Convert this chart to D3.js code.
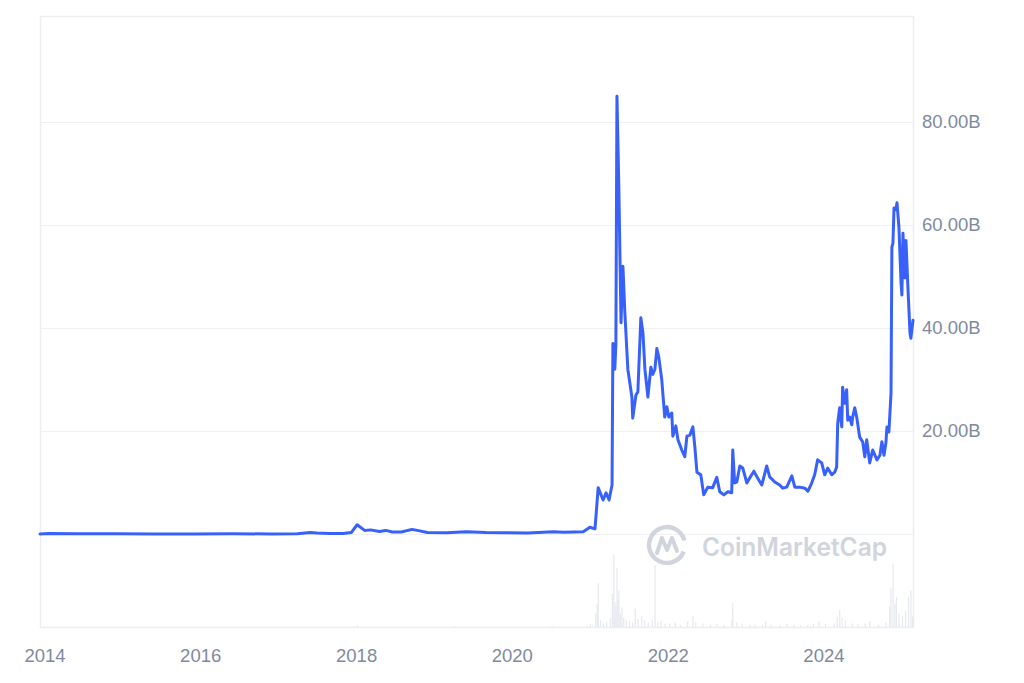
<!DOCTYPE html>
<html>
<head>
<meta charset="utf-8">
<script src="https://cdn.jsdelivr.net/npm/d3@7/dist/d3.min.js"></script>
<style>
  html, body { margin: 0; padding: 0; background: #ffffff; }
  svg { display: block; }
</style>
</head>
<body>
<svg id="chart" width="1024" height="683"></svg>
<script>
// ---------- DATA (market cap in billions USD) ----------
const priceDates = [
  "2013-12-11","2014-01-20","2014-06-01","2014-12-01","2015-06-01","2015-12-01","2016-06-01","2016-12-01",
  "2017-04-01","2017-05-30","2017-07-01","2017-09-01","2017-11-01","2017-12-10","2018-01-06","2018-02-10",
  "2018-03-10","2018-04-20","2018-05-20","2018-06-20","2018-08-01","2018-09-20","2018-10-15","2018-12-01",
  "2019-03-01","2019-06-01","2019-09-01","2019-12-01","2020-03-15","2020-07-15","2020-09-01","2020-12-01",
  "2021-01-01","2021-01-25","2021-02-09","2021-03-04","2021-03-18","2021-04-01","2021-04-15","2021-04-19",
  "2021-04-28","2021-05-03","2021-05-08","2021-05-17","2021-05-27","2021-06-05","2021-06-14","2021-06-28",
  "2021-07-17","2021-07-21","2021-08-05","2021-08-14","2021-08-28","2021-09-07","2021-09-16","2021-09-30",
  "2021-10-14","2021-10-23","2021-11-02","2021-11-11","2021-11-20","2021-12-04","2021-12-18","2021-12-28",
  "2022-01-06","2022-01-20","2022-01-25","2022-02-08","2022-02-18","2022-03-08","2022-03-22","2022-04-01",
  "2022-04-15","2022-04-29","2022-05-08","2022-05-18","2022-06-05","2022-06-19","2022-07-08","2022-07-31",
  "2022-08-19","2022-09-02","2022-09-21","2022-10-10","2022-10-28","2022-11-02","2022-11-11","2022-11-21",
  "2022-12-05","2022-12-19","2023-01-07","2023-01-21","2023-02-09","2023-02-23","2023-03-18","2023-04-10",
  "2023-04-24","2023-05-18","2023-06-10","2023-06-24","2023-07-13","2023-08-06","2023-08-20","2023-09-12",
  "2023-10-06","2023-10-20","2023-11-07","2023-11-21","2023-12-05","2023-12-24","2024-01-07","2024-01-21",
  "2024-02-09","2024-02-23","2024-03-03","2024-03-08","2024-03-17","2024-03-27","2024-03-31","2024-04-10",
  "2024-04-19","2024-04-24","2024-05-03","2024-05-13","2024-05-17","2024-05-27","2024-06-05","2024-06-19",
  "2024-07-03","2024-07-13","2024-07-22","2024-08-05","2024-08-19","2024-09-08","2024-09-22","2024-10-01",
  "2024-10-11","2024-10-20","2024-10-25","2024-11-03","2024-11-13","2024-11-17","2024-11-22","2024-11-27",
  "2024-12-06","2024-12-11","2024-12-20","2024-12-30","2025-01-03","2025-01-08","2025-01-17","2025-01-22",
  "2025-01-31","2025-02-10","2025-02-14","2025-02-24"
];
const marketCap = [
  0.01,0.08,0.04,0.03,0.02,0.02,0.03,0.02,
  0.04,0.3,0.2,0.12,0.1,0.3,1.8,0.7,
  0.8,0.5,0.7,0.4,0.4,0.9,0.7,0.3,
  0.25,0.45,0.3,0.25,0.2,0.45,0.35,0.45,
  1.3,1.0,9.0,6.6,8.0,6.6,9.5,37,
  32,37,85,67,41,52,43,32,
  26.6,22.5,27,27.6,42,39,32,26.6,
  32.4,31,32,36,34.4,30,22.7,24.7,
  22.7,23.5,19,21,18.3,16.3,15,19,
  19.2,20.8,17,12,11.5,7.6,9.1,9.0,
  11,8.2,7.6,8.2,8.0,16.3,9.9,10.1,
  13.2,12.8,9.9,10.9,12.2,11.1,9.5,13.2,
  11.1,10.1,9.5,8.9,9.1,11.3,9.1,9.1,
  8.9,8.3,9.9,11.5,14.4,13.8,11.5,12.8,
  11.5,12,13,21.5,24.5,20.8,28.5,25.4,
  28,22.1,22.7,21.2,22.7,24.5,22.7,18.8,
  17.9,15,18.3,13.8,16.3,14.4,15.3,17.9,
  15.3,17.7,20.8,19.8,27.4,55.7,56.5,63.3,
  63,64.3,59.6,48.7,46.4,58.4,49.7,57,
  48,39,38,41.5
];

// volume (billions USD)
const volDates = [
  "2017-12-20","2018-01-06","2019-04-05","2020-07-07","2020-12-20",
  "2021-01-03","2021-01-28","2021-02-04","2021-02-09","2021-02-20","2021-03-05","2021-03-20","2021-04-06",
  "2021-04-16","2021-04-23","2021-04-28","2021-05-03","2021-05-08","2021-05-12","2021-05-17","2021-05-24",
  "2021-05-31","2021-06-08","2021-06-20","2021-07-05","2021-07-20","2021-08-01","2021-08-15","2021-09-01",
  "2021-09-15","2021-10-01","2021-10-20","2021-11-02","2021-11-15","2021-12-01","2021-12-20","2022-01-10",
  "2022-02-05","2022-03-01","2022-04-04","2022-04-29","2022-05-12","2022-06-15","2022-07-20","2022-08-20",
  "2022-09-20","2022-10-28","2022-11-02","2022-11-20","2022-12-15","2023-01-20","2023-02-15","2023-03-20",
  "2023-04-05","2023-05-01","2023-06-10","2023-07-13","2023-08-15","2023-09-15","2023-10-20","2023-11-15",
  "2023-12-10","2024-01-10","2024-02-20","2024-03-05","2024-03-17","2024-03-28","2024-04-12","2024-05-15",
  "2024-06-10","2024-07-15","2024-08-05","2024-09-15","2024-10-20","2024-11-06","2024-11-12","2024-11-22",
  "2024-12-01","2024-12-08","2024-12-20","2025-01-05","2025-01-20","2025-02-03","2025-02-14","2025-02-22"
];
const volumes = [
  0.8,1.5,0.8,1.0,0.8,
  2.5,12,20,38,6,3,4,8,
  29,63,22,18,51,24,32,12,
  17,8,6,5,4,16,7,10,
  6,4,6,54,4,5,3,3,
  4,2,5,10,4,3,2,2.5,
  2,6,21,4,3,2,2,2,
  5,2,1.5,3,2,1.5,2,3,
  5,3,3,9,15,8,6,3,
  3,3,5,2,4,18,34,55,
  20,26,12,10,14,26,32,9
];

const yTicks = [20, 40, 60, 80];
const gridValues = [0, 20, 40, 60, 80];
const xTickYears = ["2014","2016","2018","2020","2022","2024"];

// ---------- CHART ----------
(function () {
const parse = d3.timeParse("%Y-%m-%d");
const series = priceDates.map((d, i) => ({ date: parse(d), value: marketCap[i] }));
const volSeries = volDates.map((d, i) => ({ date: parse(d), value: volumes[i] }));

const svg = d3.select("#chart");
const pLeft = 40, pRight = 913, pTop = 16, pBottom = 627, zeroY = 534;

const x = d3.scaleTime()
  .domain(d3.extent(series, d => d.date))
  .range([pLeft, pRight]);
const y = d3.scaleLinear().domain([0, 100]).range([zeroY, 19]);
const yVol = d3.scaleLinear().domain([0, 80]).range([pBottom, 535]);

const axisColor = "#808a9d";
const font = "'Liberation Sans', Arial, sans-serif";

// frame
svg.append("rect")
  .attr("x", pLeft + 0.5).attr("y", pTop + 0.5)
  .attr("width", pRight - pLeft).attr("height", pBottom - pTop)
  .attr("fill", "none").attr("stroke", "#eceef1").attr("stroke-width", 1.5);

// gridlines
svg.append("g").selectAll("line").data(gridValues).join("line")
  .attr("x1", pLeft).attr("x2", pRight)
  .attr("y1", d => Math.round(y(d)) + 0.5).attr("y2", d => Math.round(y(d)) + 0.5)
  .attr("stroke", "#eef0f3").attr("stroke-width", 1);

// volume bars
svg.append("g").selectAll("rect").data(volSeries).join("rect")
  .attr("x", d => x(d.date) - 0.5)
  .attr("width", 1.2)
  .attr("y", d => yVol(d.value))
  .attr("height", d => pBottom - yVol(d.value))
  .attr("fill", "#e6e9ee");

// watermark
const wm = svg.append("g");
const cx = 667, cy = 545, r = 18;
const arc = d3.arc().innerRadius(r - 2.2).outerRadius(r + 2.2)
  .startAngle(Math.PI * 0.62).endAngle(Math.PI * 2.42);
wm.append("path").attr("d", arc()).attr("transform", `translate(${cx},${cy})`).attr("fill", "#d0d4dc");
wm.append("path")
  .attr("d", `M${cx-10},${cy+8} L${cx-5},${cy-7} L${cx},${cy+5} L${cx+5},${cy-7} L${cx+10},${cy+6}`)
  .attr("fill", "none").attr("stroke", "#d0d4dc").attr("stroke-width", 4)
  .attr("stroke-linejoin", "round").attr("stroke-linecap", "round");
wm.append("text")
  .attr("x", 702).attr("y", 556)
  .attr("font-family", "Inter, 'Liberation Sans', Arial, sans-serif")
  .attr("font-weight", 600).attr("font-size", 25)
  .attr("textLength", 185).attr("lengthAdjust", "spacingAndGlyphs")
  .attr("fill", "#d0d4dc")
  .text("CoinMarketCap");

// price line
const line = d3.line().x(d => x(d.date)).y(d => y(d.value)).curve(d3.curveLinear);
svg.append("path").datum(series)
  .attr("d", line)
  .attr("fill", "none")
  .attr("stroke", "#3861fb")
  .attr("stroke-width", 3)
  .attr("stroke-linejoin", "round")
  .attr("stroke-linecap", "round");

// right axis
const yAxis = d3.axisRight(y).tickValues(yTicks).tickSize(0).tickPadding(9)
  .tickFormat(d => d3.format(".2f")(d) + "B");
const gy = svg.append("g").attr("transform", `translate(${pRight},0)`).call(yAxis);
gy.select(".domain").remove();
gy.selectAll("text").attr("fill", axisColor).attr("font-size", 18.5).attr("font-family", font);

// bottom axis
const xAxis = d3.axisBottom(x)
  .tickValues(xTickYears.map(s => parse(s + "-01-01")))
  .tickSize(0).tickPadding(18)
  .tickFormat(d3.timeFormat("%Y"));
const gx = svg.append("g").attr("transform", `translate(0,${pBottom + 4})`).call(xAxis);
gx.select(".domain").remove();
gx.selectAll("text").attr("fill", axisColor).attr("font-size", 18.5).attr("font-family", font);
})();
</script>
</body>
</html>
